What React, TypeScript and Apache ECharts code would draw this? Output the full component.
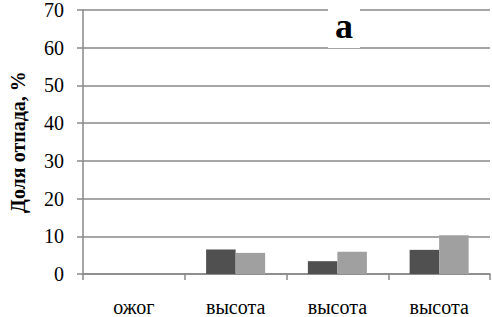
import React, { useEffect, useRef } from "react";
import * as echarts from "echarts";

const categories = ["ожог", "высота", "высота", "высота"];
const seriesDark = [0, 6.5, 3.4, 6.4];
const seriesLight = [0, 5.6, 5.9, 10.3];
const yTicks = { min: 0, max: 70, interval: 10 };
const panelLabel = "а";
const yName = "Доля отпада, %";

export default function App() {
  const ref = useRef<HTMLDivElement>(null);
  useEffect(() => {
    if (!ref.current) return;
    const chart = echarts.init(ref.current, null, { renderer: "svg" });
    const font = "Times New Roman, Liberation Serif, DejaVu Serif, serif";
    chart.setOption({
      animation: false,
      backgroundColor: "#ffffff",
      textStyle: { fontFamily: font },
      grid: { left: 74, right: 2, top: 7, bottom: 39, containLabel: false },
      xAxis: {
        type: "category",
        data: categories,
        axisLine: { show: true, lineStyle: { color: "#888888", width: 1.5 } },
        axisTick: { show: true, length: 6, interval: 0, lineStyle: { color: "#888888", width: 1.5 } },
        axisLabel: { color: "#000", fontSize: 20, fontFamily: font, margin: 23, interval: 0 },
      },
      yAxis: {
        type: "value",
        min: yTicks.min,
        max: yTicks.max,
        interval: yTicks.interval,
        name: yName,
        nameLocation: "middle",
        nameRotate: 90,
        nameGap: 55,
        nameTextStyle: { color: "#000", fontSize: 20, fontWeight: "bold", fontFamily: font },
        axisLine: { show: true, lineStyle: { color: "#888888", width: 1.5 } },
        axisTick: { show: true, length: 6, lineStyle: { color: "#888888", width: 1.5 } },
        axisLabel: { color: "#000", fontSize: 20, fontFamily: font, margin: 19 },
        splitLine: { show: true, lineStyle: { color: "#888888", width: 1.5 } },
      },
      series: [
        {
          type: "bar",
          data: seriesDark,
          itemStyle: { color: "#505050" },
          barGap: "0%",
          barCategoryGap: "42%",
        },
        {
          type: "bar",
          data: seriesLight,
          itemStyle: { color: "#a0a0a0" },
        },
      ],
      graphic: [
        {
          type: "rect",
          shape: { x: 328, y: 4, width: 32, height: 44 },
          style: { fill: "#ffffff" },
          z: 100,
        },
        {
          type: "text",
          x: 344,
          y: 26,
          z: 101,
          style: {
            text: panelLabel,
            fill: "#000",
            fontFamily: font,
            fontSize: 36,
            fontWeight: "bold",
            align: "center",
            verticalAlign: "middle",
          },
        },
      ],
    });
    return () => chart.dispose();
  }, []);
  return <div ref={ref} style={{ width: 492, height: 317, position: "absolute", left: 0, top: 0 }} />;
}
